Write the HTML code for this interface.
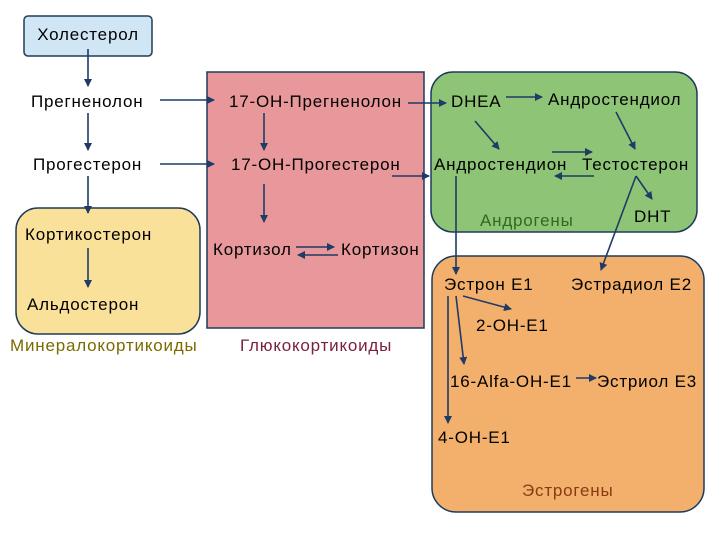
<!DOCTYPE html>
<html><head><meta charset="utf-8"><style>
html,body{margin:0;padding:0;background:#fff;}
svg text{font-family:"Liberation Sans",sans-serif;font-size:17px;letter-spacing:0.8px;fill:#000;}
</style></head><body>
<svg width="720" height="528" viewBox="0 0 720 528" xmlns="http://www.w3.org/2000/svg">
<defs><marker id="a" markerWidth="8" markerHeight="8" refX="7" refY="4" orient="auto" markerUnits="userSpaceOnUse"><path d="M0,0 L8,4 L0,8 z" fill="#1f3b66"/></marker></defs>
<rect x="24" y="16" width="128" height="40" rx="4" fill="#d0e6f5" stroke="#1f3b5a" stroke-width="1.5"/>
<rect x="16" y="208" width="184" height="126" rx="22" fill="#fae19a" stroke="#1f3b5a" stroke-width="1.5"/>
<rect x="207" y="72" width="217" height="256" fill="#e8989a" stroke="#1f3b5a" stroke-width="1.5"/>
<rect x="431" y="72" width="266" height="160" rx="22" fill="#8dc476" stroke="#1f3b5a" stroke-width="1.5"/>
<rect x="432" y="256" width="272" height="256" rx="24" fill="#f2b06c" stroke="#1f3b5a" stroke-width="1.5"/>
<g stroke="#1f3b66" stroke-width="1.6" fill="none" marker-end="url(#a)">
<line x1="88" y1="49" x2="88" y2="86"/>
<line x1="88" y1="113" x2="88" y2="150"/>
<line x1="88" y1="176" x2="88" y2="213"/>
<line x1="88" y1="248" x2="88" y2="287"/>
<line x1="160" y1="100" x2="214" y2="100"/>
<line x1="160" y1="164" x2="214" y2="164"/>
<line x1="264" y1="113" x2="264" y2="150"/>
<line x1="264" y1="184" x2="264" y2="222"/>
<line x1="296" y1="247" x2="334" y2="247"/>
<line x1="338" y1="255" x2="298" y2="255"/>
<line x1="408" y1="103" x2="446" y2="103"/>
<line x1="392" y1="176" x2="429" y2="176"/>
<line x1="506" y1="97" x2="542" y2="97"/>
<line x1="475" y1="121" x2="499" y2="149"/>
<line x1="616" y1="112" x2="635" y2="149"/>
<line x1="552" y1="152" x2="592" y2="152"/>
<line x1="594" y1="176" x2="555" y2="176"/>
<line x1="636" y1="176" x2="652" y2="199"/>
<line x1="636" y1="176" x2="601" y2="270"/>
<line x1="456" y1="176" x2="456" y2="274"/>
<line x1="463" y1="296" x2="511" y2="309"/>
<line x1="456" y1="296" x2="464" y2="364"/>
<line x1="448" y1="296" x2="448" y2="423"/>
<line x1="576" y1="378" x2="596" y2="378"/>
</g>
<text x="88" y="40" text-anchor="middle">Холестерол</text>
<text x="31" y="107">Прегненолон</text>
<text x="33" y="170">Прогестерон</text>
<text x="25" y="240">Кортикостерон</text>
<text x="27" y="310">Альдостерон</text>
<text x="10" y="351" style="fill:#7a6a00">Минералокортикоиды</text>
<text x="240" y="351" style="fill:#7a2040">Глюкокортикоиды</text>
<text x="229" y="107">17-ОН-Прегненолон</text>
<text x="231" y="170">17-ОН-Прогестерон</text>
<text x="213" y="255">Кортизол</text>
<text x="341" y="255">Кортизон</text>
<text x="451" y="107">DHEA</text>
<text x="548" y="105">Андростендиол</text>
<text x="434" y="170">Андростендион</text>
<text x="582" y="170">Тестостерон</text>
<text x="634" y="222">DHT</text>
<text x="480" y="226" style="fill:#2e6a1f">Андрогены</text>
<text x="444" y="290">Эстрон E1</text>
<text x="571" y="290">Эстрадиол E2</text>
<text x="476" y="331">2-OH-E1</text>
<text x="450" y="387">16-Alfa-OH-E1</text>
<text x="597" y="387">Эстриол E3</text>
<text x="438" y="443">4-OH-E1</text>
<text x="522" y="496" style="fill:#8a3a10">Эстрогены</text>
</svg>
</body></html>
